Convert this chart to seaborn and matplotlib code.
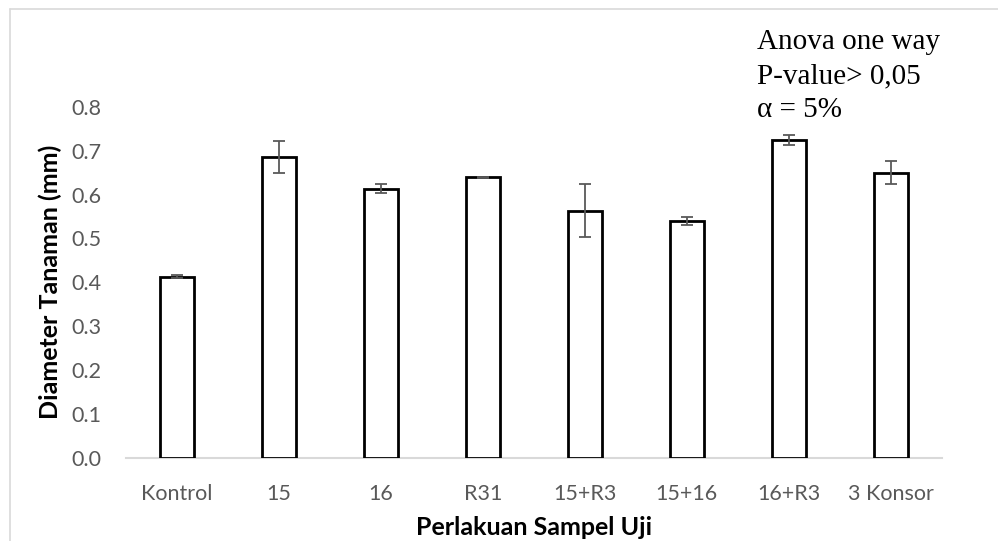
import matplotlib
matplotlib.use("Agg")
import matplotlib.pyplot as plt
import seaborn as sns
import pandas as pd
from matplotlib.lines import Line2D

# ---- data ----
categories = ["Kontrol", "15", "16", "R31", "15+R3", "15+16", "16+R3", "3 Konsor"]
means = [0.413, 0.686, 0.613, 0.639, 0.563, 0.540, 0.724, 0.650]
errors = [0.004, 0.036, 0.010, 0.002, 0.060, 0.009, 0.011, 0.026]
y_ticks = [0.0, 0.1, 0.2, 0.3, 0.4, 0.5, 0.6, 0.7, 0.8]
annot_lines = ["Anova one way", "P-value> 0,05", "\u03b1 = 5%"]

df = pd.DataFrame({"Perlakuan": categories, "Diameter": means})

sns.set_theme(style="white")
plt.rcParams["font.family"] = ["Lato", "DejaVu Sans"]

fig = plt.figure(figsize=(9.98, 5.41), dpi=100)
ax = fig.add_axes([125.7 / 998, 1 - 458 / 541, (941.7 - 125.7) / 998, (458 - 106.7) / 541])

sns.barplot(data=df, x="Perlakuan", y="Diameter", ax=ax, color="white",
            edgecolor="black", linewidth=2.0, width=0.33, errorbar=None,
            saturation=1)

ax.errorbar(list(range(len(categories))), means, yerr=errors, fmt="none",
            ecolor="#595959", elinewidth=1.3, capsize=4.5, capthick=1.3, zorder=5)

ax.set_xlim(-0.5, len(categories) - 0.5)
ax.set_ylim(0, 0.8)
ax.set_yticks(y_ticks)
ax.set_yticklabels([f"{v:.1f}" for v in y_ticks])

for s in ["top", "right", "left"]:
    ax.spines[s].set_visible(False)
ax.spines["bottom"].set_color("#d9d9d9")
ax.spines["bottom"].set_linewidth(1.5)
ax.spines["bottom"].set_zorder(0)

ax.tick_params(axis="both", length=0, labelsize=15.5, colors="#595959")
ax.tick_params(axis="x", pad=18.5)
ax.tick_params(axis="y", pad=17.3)

ax.set_xlabel("Perlakuan Sampel Uji", fontsize=18, fontweight="bold", color="black", labelpad=9)
ax.set_ylabel("Diameter Tanaman (mm)", fontsize=18, fontweight="bold", color="black", labelpad=7)
ax.patch.set_alpha(0)

# annotation
for line, yb in zip(annot_lines, [49.3, 83.3, 116.7]):
    fig.text(757 / 998, 1 - yb / 541, line, family=["Liberation Serif", "DejaVu Serif"],
             fontsize=21, va="baseline", ha="left", color="black")

# chart border (top and left visible)
fig.add_artist(Line2D([9.5 / 998, 1.0], [1 - 9 / 541, 1 - 9 / 541], transform=fig.transFigure,
                      color="#d9d9d9", linewidth=1.2))
fig.add_artist(Line2D([9.5 / 998, 9.5 / 998], [0.0, 1 - 9 / 541], transform=fig.transFigure,
                      color="#d9d9d9", linewidth=1.2))

fig.savefig("out.png", dpi=100)
